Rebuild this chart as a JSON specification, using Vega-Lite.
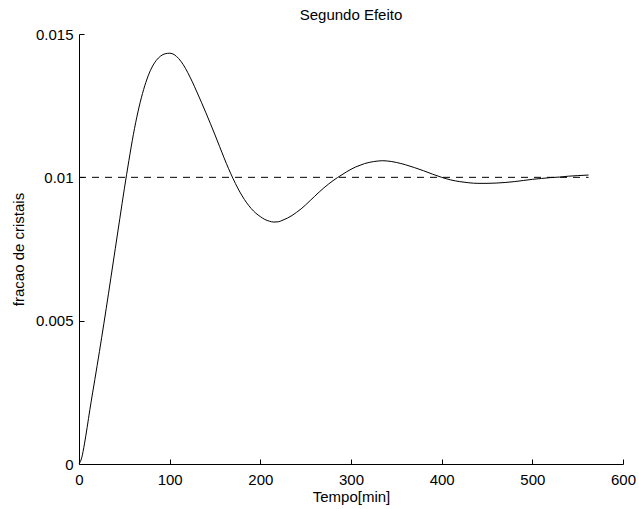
{
  "$schema": "https://vega.github.io/schema/vega-lite/v6.json",
  "autosize": {"type": "none"},
  "padding": {"left": 79, "top": 34, "right": 16, "bottom": 45},
  "width": 544,
  "height": 430,
  "background": "white",
  "title": {"text": "Segundo Efeito", "font": "Liberation Sans", "fontSize": 15, "fontWeight": "normal", "color": "black", "offset": 4},
  "config": {
    "view": {"stroke": null},
    "axis": {
      "grid": false,
      "domainColor": "black",
      "domainWidth": 1,
      "tickColor": "black",
      "tickWidth": 1,
      "tickSize": -5,
      "labelFlush": false,
      "labelFont": "Liberation Sans",
      "labelFontSize": 15,
      "labelColor": "black",
      "titleFont": "Liberation Sans",
      "titleFontSize": 15,
      "titleFontWeight": "normal",
      "titleColor": "black"
    }
  },
  "layer": [
    {
      "data": {"values": [
        {"t": 0, "v": 0.0}, {"t": 3, "v": 0.00022}, {"t": 6, "v": 0.0007}, {"t": 9, "v": 0.00128},
        {"t": 12, "v": 0.0019}, {"t": 15, "v": 0.00248}, {"t": 20, "v": 0.00343}, {"t": 25, "v": 0.00441},
        {"t": 30, "v": 0.00542}, {"t": 35, "v": 0.00646}, {"t": 40, "v": 0.00751}, {"t": 45, "v": 0.00856},
        {"t": 50, "v": 0.0096}, {"t": 55, "v": 0.01058}, {"t": 60, "v": 0.0115}, {"t": 65, "v": 0.01228},
        {"t": 70, "v": 0.01292}, {"t": 75, "v": 0.01343}, {"t": 80, "v": 0.01381}, {"t": 85, "v": 0.01407},
        {"t": 90, "v": 0.01423}, {"t": 95, "v": 0.01431}, {"t": 100, "v": 0.01433}, {"t": 105, "v": 0.01428},
        {"t": 110, "v": 0.01414}, {"t": 115, "v": 0.01393}, {"t": 120, "v": 0.01365}, {"t": 125, "v": 0.01333},
        {"t": 130, "v": 0.01298}, {"t": 135, "v": 0.01262}, {"t": 140, "v": 0.01225}, {"t": 145, "v": 0.01187},
        {"t": 150, "v": 0.01148}, {"t": 155, "v": 0.01108}, {"t": 160, "v": 0.01068}, {"t": 165, "v": 0.0103},
        {"t": 170, "v": 0.00995}, {"t": 175, "v": 0.00963}, {"t": 180, "v": 0.00935}, {"t": 185, "v": 0.00911},
        {"t": 190, "v": 0.00891}, {"t": 195, "v": 0.00875}, {"t": 200, "v": 0.00863}, {"t": 205, "v": 0.00853},
        {"t": 210, "v": 0.00847}, {"t": 215, "v": 0.00844}, {"t": 220, "v": 0.00845}, {"t": 225, "v": 0.00851},
        {"t": 230, "v": 0.00858}, {"t": 235, "v": 0.00867}, {"t": 240, "v": 0.00878}, {"t": 245, "v": 0.0089},
        {"t": 250, "v": 0.00904}, {"t": 255, "v": 0.00919}, {"t": 260, "v": 0.00934}, {"t": 265, "v": 0.00949},
        {"t": 270, "v": 0.00963}, {"t": 275, "v": 0.00976}, {"t": 280, "v": 0.00988}, {"t": 285, "v": 0.00999},
        {"t": 290, "v": 0.01009}, {"t": 295, "v": 0.01019}, {"t": 300, "v": 0.01028}, {"t": 305, "v": 0.01036},
        {"t": 310, "v": 0.01042}, {"t": 315, "v": 0.01048}, {"t": 320, "v": 0.01052}, {"t": 325, "v": 0.01055},
        {"t": 330, "v": 0.01057}, {"t": 335, "v": 0.01058}, {"t": 340, "v": 0.01057}, {"t": 345, "v": 0.01055},
        {"t": 350, "v": 0.01052}, {"t": 360, "v": 0.01044}, {"t": 370, "v": 0.01034}, {"t": 380, "v": 0.01023},
        {"t": 390, "v": 0.01011}, {"t": 400, "v": 0.01}, {"t": 410, "v": 0.00991}, {"t": 420, "v": 0.00985},
        {"t": 430, "v": 0.00981}, {"t": 440, "v": 0.00979}, {"t": 450, "v": 0.00979}, {"t": 460, "v": 0.0098},
        {"t": 470, "v": 0.00982}, {"t": 480, "v": 0.00985}, {"t": 490, "v": 0.00989}, {"t": 500, "v": 0.00993},
        {"t": 510, "v": 0.00996}, {"t": 520, "v": 0.00999}, {"t": 530, "v": 0.01001}, {"t": 540, "v": 0.01004},
        {"t": 550, "v": 0.01006}, {"t": 562, "v": 0.01008}
      ]},
      "mark": {"type": "line", "color": "black", "strokeWidth": 1, "interpolate": "monotone"},
      "encoding": {
        "x": {"field": "t", "type": "quantitative", "scale": {"domain": [0, 600], "nice": false},
          "axis": {"values": [0, 100, 200, 300, 400, 500, 600], "title": "Tempo[min]", "labelPadding": 13, "titlePadding": 2}},
        "y": {"field": "v", "type": "quantitative", "scale": {"domain": [0, 0.015], "nice": false, "zero": false},
          "axis": {"values": [0, 0.005, 0.01, 0.015], "format": "~g", "title": "fracao de cristais", "labelPadding": 11, "titlePadding": 9}}
      }
    },
    {
      "data": {"values": [{"t": 0, "v": 0.01}, {"t": 562, "v": 0.01}]},
      "mark": {"type": "line", "color": "black", "strokeWidth": 1, "strokeDash": [7, 6]},
      "encoding": {
        "x": {"field": "t", "type": "quantitative"},
        "y": {"field": "v", "type": "quantitative"}
      }
    }
  ]
}
